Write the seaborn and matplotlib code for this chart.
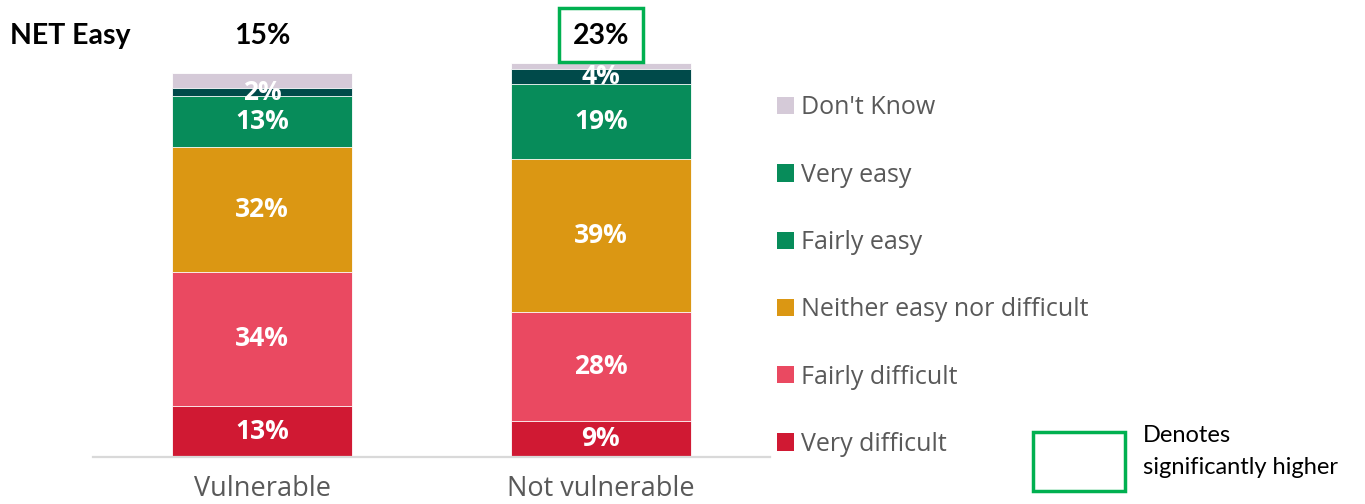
import pandas as pd
import matplotlib.pyplot as plt
import seaborn as sns
from matplotlib.patches import Patch, Rectangle

groups = ["Vulnerable", "Not vulnerable"]
levels = ["Very difficult", "Fairly difficult", "Neither easy nor difficult",
          "Fairly easy", "Very easy", "Don't Know"]
very_difficult = [13, 9]
fairly_difficult = [34, 28]
neither = [32, 39]
fairly_easy = [13, 19]
very_easy = [2, 4]
dont_know = [4, 1.5]
net_easy = [15, 23]
sig_higher = [False, True]

colors = ["#D01933", "#EA4961", "#DB9713", "#078C5A", "#004A4A", "#D5CAD8"]
legend_colors = ["#D01933", "#EA4961", "#DB9713", "#078C5A", "#078C5A", "#D5CAD8"]

rows = []
for i, g in enumerate(groups):
    vals = [very_difficult[i], fairly_difficult[i], neither[i],
            fairly_easy[i], very_easy[i], dont_know[i]]
    cum = 0
    for lev, v in zip(levels, vals):
        rows.append({"group": g, "level": lev, "value": v, "bottom": cum, "top": cum + v})
        cum += v
df = pd.DataFrame(rows)

sns.set_style("white")
plt.rcParams["font.family"] = ["Open Sans", "DejaVu Sans"]

fig = plt.figure(figsize=(13.65, 5.04), dpi=100)
ax = fig.add_axes([0.0681, 0.0942, 0.496, 0.793])

# stacked bars: draw cumulative totals, tallest first
for lev, c in reversed(list(zip(levels, colors))):
    sub = df[df["level"] == lev]
    sns.barplot(data=sub, x="group", y="top", order=groups, color=c, saturation=1,
                width=0.532, edgecolor="white", linewidth=0.6, errorbar=None, ax=ax)

for _, r in df.iterrows():
    if r["level"] == "Don't Know":
        continue
    xi = groups.index(r["group"])
    ax.text(xi, (r["bottom"] + r["top"]) / 2, f"{r['value']:.0f}%", ha="center", va="center",
            color="white", fontsize=19, fontweight="bold")

ax.set_xlim(-0.5, 1.5)
ax.set_ylim(0, 102)
sns.despine(ax=ax, left=True)
ax.spines["bottom"].set_color("#D9D9D9")
ax.spines["bottom"].set_linewidth(1.6)
ax.set_yticks([])
ax.set_xlabel("")
ax.set_ylabel("")
ax.tick_params(axis="x", length=0, labelsize=19.5, labelcolor="#595959", pad=13)

# NET Easy row
fig.text(10 / 1365, 1 - 36 / 504, "NET Easy", ha="left", va="center", fontsize=20.5,
         fontweight="bold", family=["Lato", "DejaVu Sans"], color="black")
for i, (v, s) in enumerate(zip(net_easy, sig_higher)):
    xf = ax.transData.transform((i, 0))[0] / fig.bbox.width
    fig.text(xf, 1 - 36 / 504, f"{v}%", ha="center", va="center", fontsize=20.5,
             fontweight="bold", family=["Lato", "DejaVu Sans"], color="black")
    if s:
        fig.patches.append(Rectangle((xf - 42 / 1365, 1 - 62 / 504), 84 / 1365, 54 / 504,
                                     transform=fig.transFigure, fill=False,
                                     edgecolor="#00B050", linewidth=2.5))

handles = [Patch(facecolor=c, edgecolor="none") for c in legend_colors]
leg = fig.legend(handles[::-1], levels[::-1], loc="upper left",
                 bbox_to_anchor=(754 / 1365, 1 - 73 / 504), frameon=False,
                 fontsize=18, labelspacing=1.69, handlelength=0.68, handleheight=0.68,
                 handletextpad=0.3)
for t in leg.get_texts():
    t.set_color("#595959")

fig.patches.append(Rectangle((1033 / 1365, 1 - 491 / 504), 92 / 1365, 59 / 504,
                             transform=fig.transFigure, fill=False,
                             edgecolor="#00B050", linewidth=2.5))
fig.text(1143 / 1365, 1 - 435 / 504, "Denotes", ha="left", va="center", fontsize=17,
         family=["Lato", "DejaVu Sans"], color="black")
fig.text(1143 / 1365, 1 - 467 / 504, "significantly higher", ha="left", va="center",
         fontsize=17, family=["Lato", "DejaVu Sans"], color="black")

fig.savefig("out.png", dpi=100)
